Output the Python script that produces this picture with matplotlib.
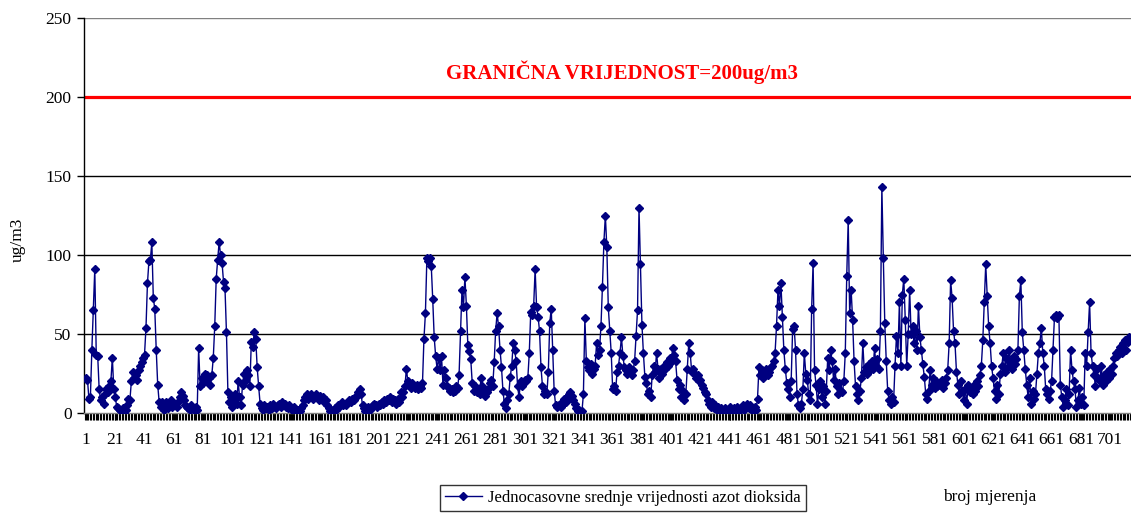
import matplotlib
matplotlib.use("Agg")
import matplotlib.pyplot as plt
import numpy as np

values = [
    22, 21, 9, 10, 40, 65, 91, 37, 36, 15, 8, 10, 6, 12, 15, 13, 17, 20, 35, 15,
    10, 4, 3, 2, 1, 3, 0, 2, 5, 9, 8, 20, 26, 22, 24, 21, 27, 30, 32, 35,
    37, 54, 82, 96, 97, 108, 73, 66, 40, 18, 7, 4, 7, 2, 5, 7, 3, 6, 8, 4,
    5, 6, 4, 7, 10, 13, 11, 8, 5, 4, 3, 2, 5, 3, 2, 4, 2, 41, 17, 22,
    19, 25, 20, 24, 22, 18, 24, 35, 55, 85, 97, 108, 100, 95, 83, 79, 51, 13, 7, 10,
    4, 8, 12, 6, 20, 10, 5, 18, 25, 20, 27, 24, 17, 45, 42, 51, 47, 29, 17, 6,
    3, 2, 5, 3, 4, 2, 5, 3, 6, 4, 3, 5, 6, 4, 7, 5, 6, 4, 3, 5,
    3, 2, 4, 1, 0, 2, 1, 3, 5, 8, 10, 12, 9, 11, 12, 9, 11, 12, 10, 8,
    11, 9, 10, 7, 8, 5, 3, 1, 0, 2, 3, 2, 5, 4, 6, 7, 5, 6, 5, 7,
    8, 7, 9, 8, 10, 11, 13, 15, 12, 5, 3, 1, 2, 4, 2, 3, 5, 6, 5, 4,
    6, 5, 7, 6, 8, 7, 9, 8, 10, 7, 9, 8, 6, 9, 7, 13, 10, 13, 17, 28,
    20, 18, 16, 19, 17, 16, 18, 15, 17, 16, 19, 47, 63, 98, 96, 98, 93, 72, 48, 36,
    28, 35, 27, 36, 18, 27, 22, 17, 16, 14, 15, 13, 14, 17, 16, 24, 52, 78, 67, 86,
    68, 43, 39, 34, 19, 14, 17, 13, 15, 12, 22, 17, 14, 11, 13, 15, 19, 21, 17, 32,
    52, 63, 55, 40, 29, 14, 6, 3, 8, 12, 23, 30, 44, 40, 33, 17, 10, 20, 17, 19,
    21, 20, 22, 38, 64, 62, 68, 91, 67, 61, 52, 29, 17, 12, 14, 12, 26, 57, 66, 40,
    14, 5, 4, 5, 6, 4, 6, 9, 7, 10, 12, 13, 11, 8, 6, 3, 1, 2, 0, 1,
    12, 60, 33, 29, 27, 31, 25, 28, 30, 44, 37, 40, 55, 80, 108, 125, 105, 67, 52, 38,
    15, 17, 14, 26, 30, 38, 48, 36, 29, 27, 25, 29, 26, 24, 27, 33, 49, 65, 130, 94,
    56, 38, 23, 19, 12, 14, 10, 24, 30, 26, 38, 28, 22, 28, 25, 30, 28, 32, 30, 35,
    32, 41, 37, 33, 21, 15, 18, 10, 14, 8, 12, 28, 44, 38, 26, 28, 25, 22, 24, 20,
    21, 18, 16, 13, 12, 8, 6, 4, 7, 3, 5, 2, 4, 1, 3, 2, 0, 3, 2, 1,
    4, 2, 1, 3, 2, 4, 1, 2, 3, 5, 2, 4, 6, 3, 5, 2, 1, 4, 2, 9,
    29, 24, 27, 22, 25, 28, 24, 26, 29, 30, 33, 38, 55, 78, 68, 82, 61, 40, 28, 19,
    15, 10, 20, 53, 55, 40, 12, 5, 3, 6, 15, 38, 25, 21, 12, 8, 66, 95, 27, 18,
    6, 15, 20, 10, 17, 6, 14, 35, 27, 40, 33, 21, 28, 17, 12, 19, 14, 13, 20, 38,
    87, 122, 63, 78, 59, 33, 17, 12, 8, 14, 22, 44, 26, 29, 25, 31, 27, 33, 28, 41,
    30, 34, 28, 52, 143, 98, 57, 33, 14, 8, 6, 10, 7, 30, 49, 38, 70, 30, 75, 85,
    59, 30, 50, 78, 50, 55, 44, 52, 40, 68, 48, 40, 31, 23, 12, 9, 14, 27, 18, 22,
    16, 20, 17, 19, 18, 21, 16, 19, 22, 27, 44, 84, 73, 52, 44, 26, 18, 12, 20, 14,
    8, 15, 6, 18, 13, 16, 12, 18, 14, 20, 17, 24, 30, 46, 70, 94, 74, 55, 44, 30,
    22, 14, 9, 18, 12, 25, 30, 38, 26, 35, 29, 40, 33, 28, 36, 31, 34, 40, 74, 84,
    51, 40, 28, 18, 10, 22, 6, 14, 9, 12, 25, 38, 44, 54, 38, 30, 15, 12, 9, 14,
    20, 40, 61, 62, 60, 62, 18, 10, 4, 8, 15, 5, 12, 40, 27, 20, 15, 4, 8, 16,
    6, 10, 5, 38, 30, 51, 70, 38, 30, 24, 17, 28, 22, 20, 30, 18, 24, 20, 26, 22,
    28, 25, 30, 35, 38, 36, 40, 42, 38, 44, 46, 40, 45, 48,
]
x_index = np.arange(1, len(values) + 1)
tick_positions = list(range(1, 702, 20))
tick_labels = [str(t) for t in tick_positions]
y_ticks = [0, 50, 100, 150, 200, 250]
limit_value = 200
series_name = "Jednocasovne srednje vrijednosti azot dioksida"
limit_text = "GRANIČNA VRIJEDNOST=200ug/m3"
y_label = "ug/m3"
x_label = "broj mjerenja"

W, H = 1131, 513
fig = plt.figure(figsize=(W / 100, H / 100), dpi=100)
ax = fig.add_axes([84 / W, 100 / H, (1131 - 84) / W, 395 / H])
serif = ["Liberation Serif", "DejaVu Serif"]

ax.set_xlim(-0.37, 715.3)
ax.set_ylim(0, 250)

for g in [50, 100, 150]:
    ax.axhline(g, color="black", lw=1.0, zorder=1)
ax.axhline(250, color="#808080", lw=1.0, zorder=1)
ax.axhline(limit_value, color="#ff0000", lw=2.3, zorder=2)

line, = ax.plot(x_index, values, color="#000080", lw=1.0, marker="D",
                markersize=4.0, markerfacecolor="#000080",
                markeredgecolor="#000080", zorder=3, label=series_name)

for s in ["top", "right"]:
    ax.spines[s].set_visible(False)
ax.spines["left"].set_color("black")
ax.spines["left"].set_linewidth(1.0)
ax.spines["bottom"].set_color("#808080")
ax.spines["bottom"].set_linewidth(1.0)

ax.set_yticks(y_ticks)
ax.set_yticklabels([str(v) for v in y_ticks], fontfamily=serif, fontsize=12.5)
ax.tick_params(axis="y", direction="out", length=5, width=1, color="black", pad=4)

ax.set_xticks(tick_positions)
ax.set_xticklabels(tick_labels, fontfamily=serif, fontsize=12.5)
ax.set_xticks(np.arange(0.5, len(values) + 1, 1), minor=True)
ax.tick_params(axis="x", which="major", direction="out", length=5, width=0.8,
               color="black", pad=9)
ax.tick_params(axis="x", which="minor", direction="out", length=5, width=0.8,
               color="black")

fig.text(18 / W, 1 - 240 / H, y_label, rotation=90, ha="center", va="center",
         fontfamily=serif, fontsize=12.5)
fig.text(622 / W, 1 - 72 / H, limit_text, ha="center", va="center",
         fontfamily=serif, fontsize=15, fontweight="bold", color="#ff0000")
fig.text(990 / W, 1 - 497 / H, x_label, ha="center", va="center",
         fontfamily=serif, fontsize=12.5)

leg = fig.legend(handles=[line], loc="upper left",
                 bbox_to_anchor=(440 / W, 1 - 485 / H),
                 prop={"family": serif, "size": 12}, frameon=True,
                 fancybox=False, borderpad=0.3, handlelength=2.2,
                 handletextpad=0.4, borderaxespad=0)
leg.get_frame().set_edgecolor("black")
leg.get_frame().set_linewidth(1.0)

fig.savefig("out.png", dpi=100)
